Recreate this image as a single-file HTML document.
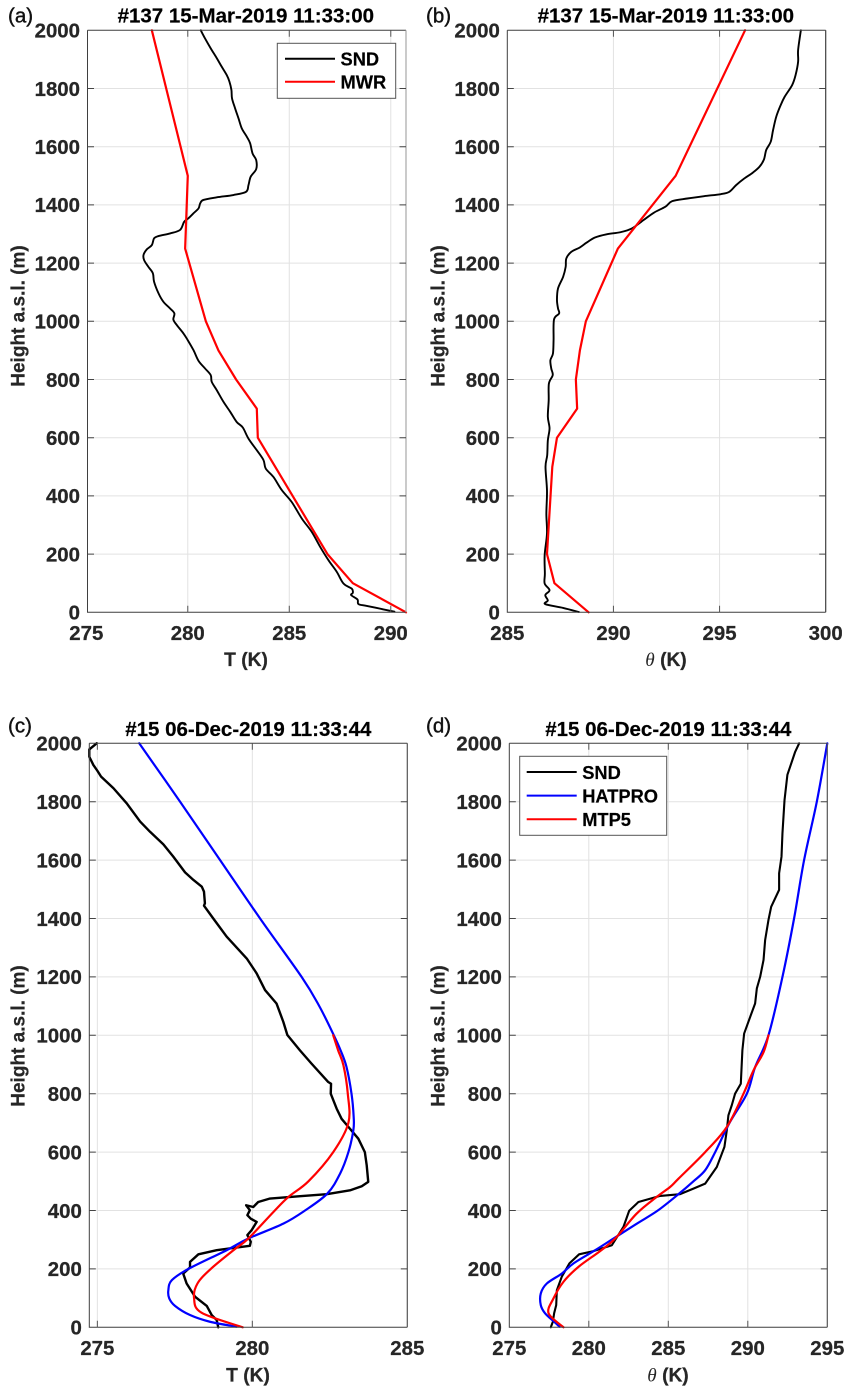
<!DOCTYPE html>
<html lang="en">
<head>
<meta charset="utf-8">
<title>Temperature profiles</title>
<style>
html,body{margin:0;padding:0;background:#fff;}
#fig{display:block;width:853px;height:1395px;}
text{font-family:"Liberation Sans",Arial,sans-serif;}
</style>
</head>
<body>
<svg id="fig" xmlns="http://www.w3.org/2000/svg" width="853" height="1395" viewBox="0 0 853 1395"></svg>
<script>
// ---------- Tick labels ----------
const heightTicks = [0, 200, 400, 600, 800, 1000, 1200, 1400, 1600, 1800, 2000];
const aTempTicks = [275, 280, 285, 290];
const bThetaTicks = [285, 290, 295, 300];
const cTempTicks = [275, 280, 285];
const dThetaTicks = [275, 280, 285, 290, 295];

// ---------- Panel (a) T, #137 ----------
const aSndT = [280.64,280.85,281.13,281.43,281.67,281.92,282.05,282.15,282.18,282.33,282.50,282.66,282.91,283.07,283.19,283.37,283.37,283.10,282.99,282.87,282.25,281.43,280.77,280.61,280.53,280.28,280.03,279.82,279.62,279.13,278.56,278.34,278.23,277.98,277.82,277.85,278.06,278.28,278.34,278.56,278.80,279.13,279.34,279.29,279.46,279.79,280.00,280.28,280.53,280.85,281.13,281.18,281.43,281.76,282.09,282.41,282.71,282.99,283.40,283.73,283.84,284.22,284.63,285.12,285.62,286.11,286.52,286.93,287.34,287.67,288.08,288.13,288.05,288.36,288.41,288.82,289.64,290.18];
const aSndZ = [2000,1972,1938,1904,1875,1846,1824,1795,1766,1732,1697,1663,1634,1612,1577,1554,1523,1497,1468,1445,1434,1426,1417,1405,1388,1371,1354,1342,1314,1302,1293,1285,1262,1247,1228,1210,1187,1165,1136,1096,1067,1044,1027,1006,987,958,935,901,864,838,815,792,763,723,689,654,635,597,557,523,494,465,420,379,322,276,225,179,139,99,81,67,59,44,28,22,10,2];
const aMwrT = [278.23,280.00,279.87,280.89,281.51,282.38,283.40,283.45,286.88,288.13,290.75];
const aMwrZ = [2000,1500,1250,1000,900,800,700,600,200,100,0];

// ---------- Panel (b) theta, #137 ----------
const bSndTheta = [298.83,298.70,298.70,298.58,298.42,298.07,297.88,297.67,297.52,297.41,297.20,297.09,296.88,296.57,296.17,295.78,295.46,295.06,294.27,293.48,292.77,292.45,291.90,291.42,290.87,290.32,289.68,289.13,288.73,288.42,288.02,287.78,287.75,287.63,287.39,287.34,287.39,287.44,287.20,287.18,287.15,287.03,287.07,287.14,286.96,286.95,286.91,286.99,286.91,286.88,286.80,286.87,286.84,286.87,286.76,286.77,286.76,286.99,286.79,286.91,286.79,287.63,288.37];
const bSndZ = [2000,1932,1892,1846,1812,1772,1743,1703,1657,1617,1589,1556,1531,1511,1491,1468,1445,1437,1430,1422,1413,1394,1373,1348,1319,1306,1299,1288,1270,1254,1239,1216,1187,1153,1113,1073,1044,1027,1006,935,889,866,838,815,786,729,672,632,591,540,500,418,339,271,196,133,99,76,59,41,28,15,1];
const bMwrTheta = [296.20,292.93,290.21,288.70,288.42,288.23,288.29,287.34,287.12,286.87,287.22,288.83];
const bMwrZ = [2000,1500,1250,1000,900,800,700,600,500,200,100,0];

// ---------- Panel (c) T, #15 ----------
const cSndT = [274.98,274.74,274.74,274.87,275.00,275.12,275.52,275.95,276.38,276.70,277.13,277.45,277.83,278.10,278.37,278.44,278.47,278.44,278.74,279.17,279.82,280.14,280.41,280.78,281.00,281.13,281.54,281.91,282.45,282.54,282.53,282.72,282.88,283.15,283.42,283.63,283.69,283.74,283.53,283.15,282.40,281.54,280.57,280.19,280.03,279.80,279.92,279.84,279.95,280.14,279.98,279.84,279.95,279.92,279.39,278.85,278.26,277.99,277.99,277.77,277.88,278.15,278.53,278.69,278.85,278.90];
const cSndZ = [2000,1979,1954,1926,1906,1886,1846,1794,1732,1697,1654,1612,1558,1532,1509,1492,1452,1444,1400,1338,1263,1212,1155,1109,1046,1001,948,903,840,834,800,749,714,680,646,600,555,498,483,469,456,449,441,429,412,418,401,384,372,361,333,316,293,279,272,264,250,224,205,184,150,105,73,42,25,0];
const cHatproT = [276.35,277.67,278.96,280.25,281.59,282.16,282.63,282.85,283.04,283.20,283.27,283.26,283.10,282.83,282.42,281.70,281.00,279.87,279.17,277.94,277.40,277.29,277.32,277.51,277.99,278.63,279.49];
const cHatproZ = [2000,1800,1600,1400,1200,1100,1000,948,891,800,720,675,600,526,458,400,355,304,264,200,161,127,99,73,42,19,2];
const cMtp5T = [282.61,282.77,282.94,283.08,283.10,282.61,281.81,281.16,280.68,279.87,279.39,278.66,278.23,278.12,278.36,279.69];
const cMtp5Z = [1000,948,897,800,700,600,500,446,395,304,264,200,150,100,50,0];

// ---------- Panel (d) theta, #15 ----------
const dSndTheta = [293.23,292.98,292.49,292.31,292.18,292.12,291.97,291.97,291.47,291.30,291.09,290.99,290.78,290.57,290.46,290.19,289.77,289.66,289.56,289.20,288.99,288.78,288.68,288.53,288.05,287.32,286.58,285.74,284.49,283.12,282.54,282.18,281.45,280.29,279.39,278.78,278.30,277.99,277.95,277.82,277.74,277.61];
const dSndZ = [2000,1971,1892,1806,1692,1612,1555,1498,1440,1395,1326,1258,1201,1161,1109,1069,1006,949,834,800,760,726,675,618,549,492,475,456,450,429,399,344,281,261,250,219,173,127,76,48,19,0];
const dHatproTheta = [295.00,294.34,293.54,292.91,292.18,291.30,290.46,289.94,288.85,287.95,287.32,286.58,285.64,284.34,283.02,281.55,280.40,279.04,278.30,277.36,276.98,276.98,277.25,277.82,278.16];
const dHatproZ = [2000,1800,1600,1400,1200,1000,891,800,700,600,538,500,456,400,355,304,264,219,184,150,116,76,48,19,2];
const dMtp5Theta = [291.30,290.99,290.36,289.73,288.68,287.32,285.64,285.12,284.28,283.02,281.66,280.71,279.35,278.41,277.78,277.47,278.41];
const dMtp5Z = [1000,942,880,800,686,600,509,481,447,390,304,261,207,156,99,48,0];

const svg = document.getElementById('fig');
const NS = 'http://www.w3.org/2000/svg';

function mk(tag, attrs, parent) {
  const e = document.createElementNS(NS, tag);
  for (const k in attrs) e.setAttribute(k, attrs[k]);
  (parent || svg).appendChild(e);
  return e;
}

// Straight segments, or a Catmull-Rom curve through the points for smooth retrieval profiles.
function pathFor(xs, zs, X, Y, smooth) {
  const P = xs.map(function (v, i) { return [X(v), Y(zs[i])]; });
  let d = 'M' + P[0][0].toFixed(2) + ' ' + P[0][1].toFixed(2);
  for (let i = 0; i < P.length - 1; i++) {
    if (!smooth) {
      d += 'L' + P[i + 1][0].toFixed(2) + ' ' + P[i + 1][1].toFixed(2);
      continue;
    }
    const p0 = P[Math.max(i - 1, 0)], p1 = P[i], p2 = P[i + 1], p3 = P[Math.min(i + 2, P.length - 1)];
    const c1x = p1[0] + (p2[0] - p0[0]) / 6, c1y = p1[1] + (p2[1] - p0[1]) / 6;
    const c2x = p2[0] - (p3[0] - p1[0]) / 6, c2y = p2[1] - (p3[1] - p1[1]) / 6;
    d += 'C' + c1x.toFixed(2) + ' ' + c1y.toFixed(2) + ' ' + c2x.toFixed(2) + ' ' + c2y.toFixed(2) + ' ' + p2[0].toFixed(2) + ' ' + p2[1].toFixed(2);
  }
  return d;
}

function plotLine(g, s, X, Y) {
  const line = mk('path', {d: pathFor(s.x, s.z, X, Y, s.smooth), fill: 'none', stroke: s.color, 'stroke-width': s.width, 'stroke-linejoin': 'round', 'stroke-linecap': 'round'}, g);
  
  
}

function drawPanel(p) {
  const g = mk('g', {});
  
  
  const X = function (v) { return p.left + (v - p.xMin) / (p.xMax - p.xMin) * (p.right - p.left); };
  const Y = function (z) { return p.bottom - z / 2000 * (p.bottom - p.top); };

  // grid
  p.xTicks.forEach(function (t) {
    if (X(t) <= p.left + 1 || X(t) >= p.right - 1) return;
    const gl = mk('line', {x1: X(t), x2: X(t), y1: p.top, y2: p.bottom, stroke: '#e2e2e2', 'stroke-width': 1}, g);
    
    
  });
  heightTicks.forEach(function (t) {
    if (t === 0 || t === 2000) return;
    const gl = mk('line', {x1: p.left, x2: p.right, y1: Y(t), y2: Y(t), stroke: '#e2e2e2', 'stroke-width': 1}, g);
    
    
  });

  // series
  p.series.forEach(function (s) {
    plotLine(g, s, X, Y);
  });

  // axes box
  const spine = mk('path', {d: 'M' + p.left + ' ' + p.top + 'H' + p.right + 'M' + p.left + ' ' + p.top + 'V' + p.bottom + 'H' + p.right, fill: 'none', stroke: '#3f3f3f', 'stroke-width': 1}, g);
  
  
  const rspine = mk('line', {x1: p.right, x2: p.right, y1: p.top, y2: p.bottom, stroke: p.rightColor, 'stroke-width': 1.2}, g);
  
  

  // x ticks and labels
  p.xTicks.forEach(function (t) {
    const x = X(t);
    if (x > p.left + 1 && x < p.right - 1) {
      const tk = mk('path', {d: 'M' + x + ' ' + p.bottom + 'v-6.5M' + x + ' ' + p.top + 'v6.5', stroke: '#555', 'stroke-width': 1, fill: 'none'}, g);
      
      
    }
    const tl = mk('text', {x: x, y: p.bottom + 27.7, 'text-anchor': 'middle', 'font-size': 20.4, 'font-weight': 700, fill: '#262626', stroke: '#262626', 'stroke-width': 0.25}, g);
    tl.textContent = String(t);
    
    
  });

  // y ticks and labels
  heightTicks.forEach(function (t) {
    const y = Y(t);
    if (t !== 0 && t !== 2000) {
      const tk = mk('path', {d: 'M' + p.left + ' ' + y + 'h6.5M' + p.right + ' ' + y + 'h-6.5', stroke: '#444', 'stroke-width': 1, fill: 'none'}, g);
      
      
    }
    const tl = mk('text', {x: p.left - 7.5, y: y + 7.3, 'text-anchor': 'end', 'font-size': 20.4, 'font-weight': 700, fill: '#262626', stroke: '#262626', 'stroke-width': 0.25}, g);
    tl.textContent = String(t);
    
    
  });

  // title
  const title = mk('text', {x: p.titleX, y: p.titleY, 'text-anchor': 'middle', 'font-size': 20.5, 'font-weight': 700, fill: '#000', stroke: '#000', 'stroke-width': 0.2}, g);
  title.textContent = p.title;
  
  

  // panel letter
  const letter = mk('text', {x: p.letterX, y: p.letterY, 'font-size': 20.5, fill: '#111', stroke: '#111', 'stroke-width': 0.4}, g);
  letter.textContent = p.letter;
  
  

  // y label
  const yl = mk('text', {transform: 'translate(' + p.yLabelX + ' ' + p.yLabelY + ') rotate(-90)', 'text-anchor': 'middle', 'font-size': 19, 'font-weight': 700, fill: '#262626', stroke: '#262626', 'stroke-width': 0.25}, g);
  yl.textContent = 'Height a.s.l. (m)';
  
  

  // x label
  const xl = mk('text', {x: p.xLabelX, y: p.xLabelY, 'text-anchor': 'middle', 'font-size': 19.2, 'font-weight': 700, fill: '#262626', stroke: '#262626', 'stroke-width': 0.25}, g);
  
  
  if (p.theta) {
    const th = mk('tspan', {'font-family': '"Liberation Serif",serif', 'font-style': 'italic', 'font-weight': 400, 'stroke-width': 0}, xl);
    th.textContent = '\u03B8';
    const rest = mk('tspan', {}, xl);
    rest.textContent = ' (K)';
  } else {
    xl.textContent = 'T (K)';
  }

  // legend
  if (p.legend) {
    const lg = mk('g', {}, g);
    
    
    const box = mk('rect', {x: p.legend.x, y: p.legend.y, width: p.legend.w, height: p.legend.h, fill: '#fff', stroke: '#555', 'stroke-width': 1}, lg);
    
    
    p.series.forEach(function (s, i) {
      const ly = p.legend.y + p.legend.first + i * p.legend.step;
      const sw = mk('line', {x1: p.legend.x + p.legend.pad, x2: p.legend.x + p.legend.pad + 50, y1: ly, y2: ly, stroke: s.color, 'stroke-width': 2}, lg);
      
      
      const lt = mk('text', {x: p.legend.x + p.legend.pad + 55.5, y: ly + 7, 'font-size': 18.3, 'font-weight': 700, fill: '#000', stroke: '#000', 'stroke-width': 0.2}, lg);
      lt.textContent = s.label;
      
      
    });
  }
}

drawPanel({
  id: 'a', letter: '(a)', letterX: 8, letterY: 22.5,
  title: '#137 15-Mar-2019 11:33:00', titleX: 245.8, titleY: 22.7,
  left: 87.5, right: 406, top: 30.3, bottom: 612.3, xMin: 275.06, xMax: 290.75,
  xTicks: aTempTicks, rightColor: '#a8a8a8',
  yLabelX: 24.5, yLabelY: 316, xLabelX: 246, xLabelY: 666, theta: false,
  legend: {x: 277.3, y: 43.3, w: 118.4, h: 55, first: 15.4, step: 23, pad: 7.7},
  series: [
    {label: 'SND', x: aSndT, z: aSndZ, color: '#000', width: 1.9, smooth: true},
    {label: 'MWR', x: aMwrT, z: aMwrZ, color: '#f00', width: 2.2, smooth: false}
  ]
});

drawPanel({
  id: 'b', letter: '(b)', letterX: 426, letterY: 22.5,
  title: '#137 15-Mar-2019 11:33:00', titleX: 665.8, titleY: 22.7,
  left: 507.3, right: 825.7, top: 30.3, bottom: 612.3, xMin: 285, xMax: 300,
  xTicks: bThetaTicks, rightColor: '#3f3f3f',
  yLabelX: 444.5, yLabelY: 316, xLabelX: 666, xLabelY: 666, theta: true,
  legend: null,
  series: [
    {label: 'SND', x: bSndTheta, z: bSndZ, color: '#000', width: 1.9, smooth: true},
    {label: 'MWR', x: bMwrTheta, z: bMwrZ, color: '#f00', width: 2.2, smooth: false}
  ]
});

drawPanel({
  id: 'c', letter: '(c)', letterX: 8, letterY: 732.7,
  title: '#15 06-Dec-2019 11:33:44', titleX: 248.3, titleY: 736,
  left: 89.3, right: 407.3, top: 743.3, bottom: 1327.3, xMin: 274.74, xMax: 285,
  xTicks: cTempTicks, rightColor: '#555',
  yLabelX: 24.5, yLabelY: 1036, xLabelX: 248, xLabelY: 1381.7, theta: false,
  legend: null,
  series: [
    {label: 'SND', x: cSndT, z: cSndZ, color: '#000', width: 2.4, smooth: false},
    {label: 'HATPRO', x: cHatproT, z: cHatproZ, color: '#00f', width: 2.2, smooth: true},
    {label: 'MTP5', x: cMtp5T, z: cMtp5Z, color: '#f00', width: 2.2, smooth: true}
  ]
});

drawPanel({
  id: 'd', letter: '(d)', letterX: 426, letterY: 732.7,
  title: '#15 06-Dec-2019 11:33:44', titleX: 668.3, titleY: 736,
  left: 509.3, right: 827.3, top: 743.3, bottom: 1327.3, xMin: 275, xMax: 295,
  xTicks: dThetaTicks, rightColor: '#555',
  yLabelX: 444.5, yLabelY: 1036, xLabelX: 668, xLabelY: 1381.7, theta: true,
  legend: {x: 519.7, y: 756.3, w: 147, h: 79, first: 15.7, step: 23.6, pad: 7},
  series: [
    {label: 'SND', x: dSndTheta, z: dSndZ, color: '#000', width: 2.1, smooth: false},
    {label: 'HATPRO', x: dHatproTheta, z: dHatproZ, color: '#00f', width: 2.2, smooth: true},
    {label: 'MTP5', x: dMtp5Theta, z: dMtp5Z, color: '#f00', width: 2.2, smooth: true}
  ]
});
</script>
</body>
</html>
